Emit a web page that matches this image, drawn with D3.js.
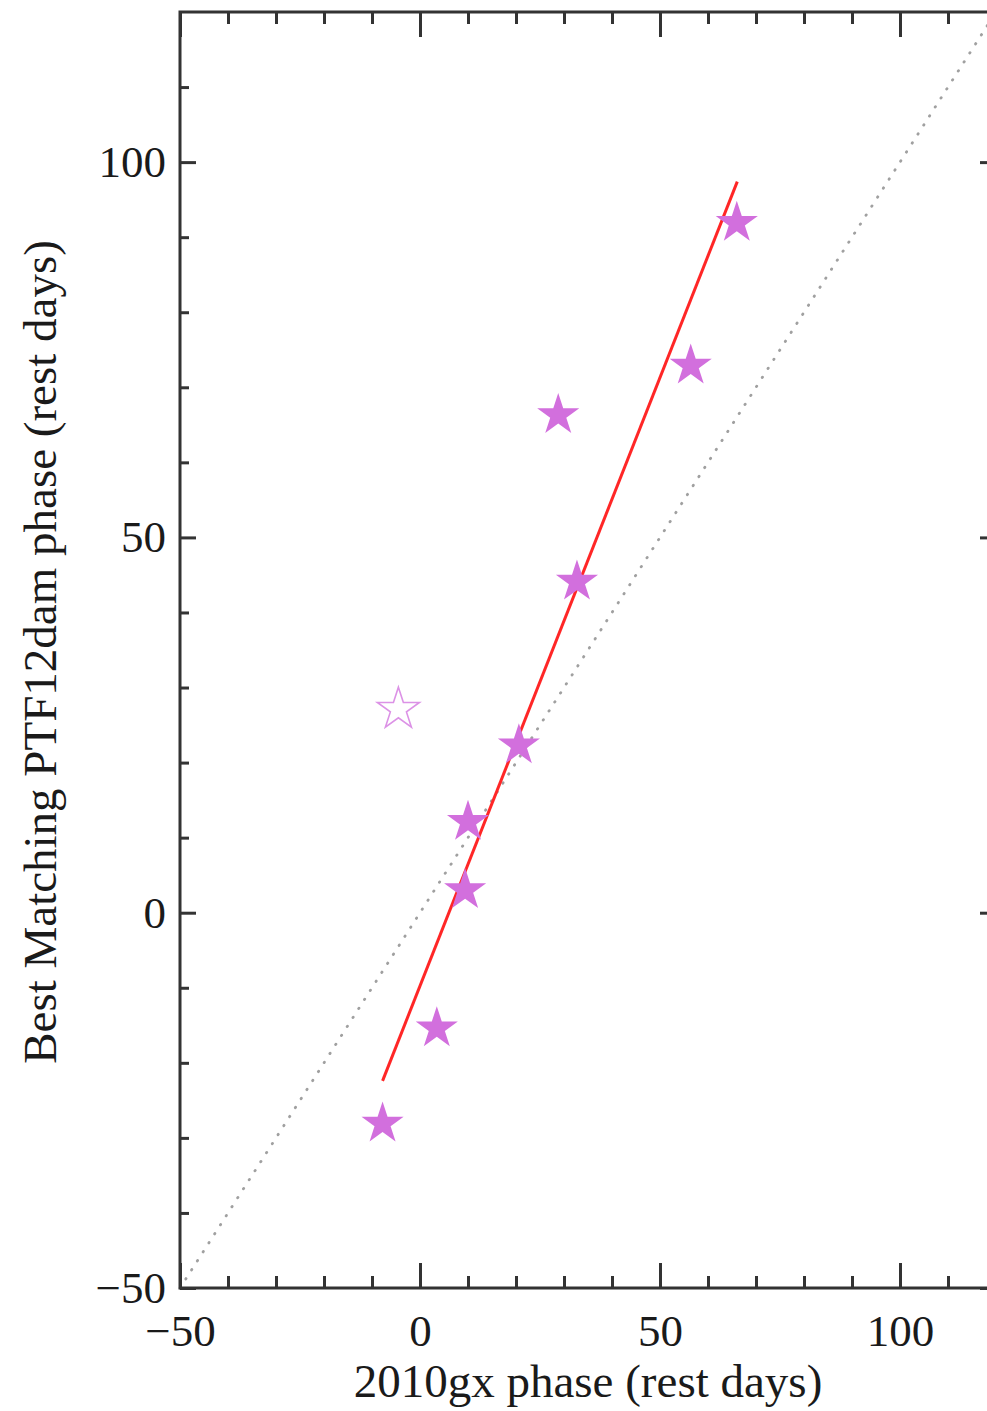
<!DOCTYPE html>
<meta charset="utf-8">
<style>
  body { margin: 0; background: #fff; }
  svg { display: block; }
  text { font-family: "Liberation Serif", "Times New Roman", serif; fill: #1a1a1a; }
</style>
<body>
<div id="chart"></div>
<script src="https://d3js.org/d3.v7.min.js"></script>
<script>

// 2010gx phase vs best matching PTF12dam phase (rest days)
var phase2010gx = [-7.8, 3.5, 9.4, 10.0, 20.6, 32.7, 28.8, 56.4, 66.0];
var phasePTF12dam = [-28.1, -15.4, 3.0, 12.1, 22.3, 44.1, 66.3, 72.9, 91.9];
// rejected point (open star)
var outlier2010gx = [-4.5];
var outlierPTF12dam = [27.1];
// linear fit ends
var fitX = [-7.8, 66.1];
var fitY = [-22.4, 97.4];

var xMajor = [-50, 0, 50, 100];
var yMajor = [-50, 0, 50, 100];
var minorTicks = [-40, -30, -20, -10, 10, 20, 30, 40, 60, 70, 80, 90, 110];
var xLabel = "2010gx phase (rest days)";
var yLabel = "Best Matching PTF12dam phase (rest days)";

var W = 987, H = 1411;
// note: "top" is reserved on window, so plot edges get a prefix
var pLeft = 180, pRight = 996, pTop = 12, pBottom = 1288;

var svg = d3.select("#chart")
  .append("svg")
    .attr("width", W)
    .attr("height", H);

var x = d3.scaleLinear().domain([-50, 120]).range([pLeft, pRight]);
var y = d3.scaleLinear().domain([-50, 120]).range([pBottom, pTop]);

// one-to-one line, dotted
svg.append("line")
  .attr("x1", x(-50)).attr("y1", y(-50))
  .attr("x2", x(120)).attr("y2", y(120))
  .style("stroke", "#a0a0a0")
  .style("stroke-width", 2.8)
  .style("stroke-linecap", "round")
  .style("stroke-dasharray", "0.5 10.2");

// fit line
svg.append("line")
  .attr("x1", x(fitX[0])).attr("y1", y(fitY[0]))
  .attr("x2", x(fitX[1])).attr("y2", y(fitY[1]))
  .style("stroke", "#ff2626")
  .style("stroke-width", 3);

var star = d3.symbol().type(d3.symbolStar).size(550);

svg.append("g")
  .selectAll("path")
  .data(d3.range(phase2010gx.length))
  .enter()
  .append("path")
    .attr("d", star)
    .attr("transform", function (i) { return "translate(" + x(phase2010gx[i]) + "," + y(phasePTF12dam[i]) + ")"; })
    .style("fill", "#d26fdd");

svg.append("g")
  .selectAll("path")
  .data(d3.range(outlier2010gx.length))
  .enter()
  .append("path")
    .attr("d", star)
    .attr("transform", function (i) { return "translate(" + x(outlier2010gx[i]) + "," + y(outlierPTF12dam[i]) + ")"; })
    .style("fill", "none")
    .style("stroke", "#dc92e6")
    .style("stroke-width", 1.6);

// axes: major + minor ticks on all four sides, pointing inward
function styleAxis(g) {
  g.select(".domain").remove();
  g.selectAll("line").style("stroke", "#333").style("stroke-width", 3);
  g.selectAll("text").style("font-size", "45px").style("font-family", "Liberation Serif").style("fill", "#1a1a1a");
}

var minusFmt = function (d) { return d < 0 ? "\u2212" + Math.abs(d) : String(d); };

svg.append("g")
  .attr("transform", "translate(0," + pBottom + ")")
  .call(d3.axisBottom(x).tickValues(xMajor).tickSize(-25).tickPadding(26).tickFormat(minusFmt))
  .call(styleAxis);
svg.append("g")
  .attr("transform", "translate(0," + pBottom + ")")
  .call(d3.axisBottom(x).tickValues(minorTicks).tickSize(-12).tickFormat(""))
  .call(styleAxis);
svg.append("g")
  .attr("transform", "translate(0," + pTop + ")")
  .call(d3.axisTop(x).tickValues(xMajor).tickSize(-25).tickFormat(""))
  .call(styleAxis);
svg.append("g")
  .attr("transform", "translate(0," + pTop + ")")
  .call(d3.axisTop(x).tickValues(minorTicks).tickSize(-12).tickFormat(""))
  .call(styleAxis);

svg.append("g")
  .attr("transform", "translate(" + pLeft + ",0)")
  .call(d3.axisLeft(y).tickValues(yMajor).tickSize(-16).tickPadding(14).tickFormat(minusFmt))
  .call(styleAxis);
svg.append("g")
  .attr("transform", "translate(" + pLeft + ",0)")
  .call(d3.axisLeft(y).tickValues(minorTicks).tickSize(-9).tickFormat(""))
  .call(styleAxis);
svg.append("g")
  .attr("transform", "translate(" + pRight + ",0)")
  .call(d3.axisRight(y).tickValues(yMajor).tickSize(-16).tickFormat(""))
  .call(styleAxis);
svg.append("g")
  .attr("transform", "translate(" + pRight + ",0)")
  .call(d3.axisRight(y).tickValues(minorTicks).tickSize(-9).tickFormat(""))
  .call(styleAxis);

// frame
svg.append("rect")
  .attr("x", pLeft).attr("y", pTop)
  .attr("width", pRight - pLeft).attr("height", pBottom - pTop)
  .style("fill", "none")
  .style("stroke", "#333")
  .style("stroke-width", 3);

svg.append("text")
  .attr("text-anchor", "middle")
  .attr("x", (pLeft + pRight) / 2)
  .attr("y", 1397)
  .style("font-size", "47px")
  .text(xLabel);

svg.append("text")
  .attr("text-anchor", "middle")
  .attr("transform", "translate(56," + ((pTop + pBottom) / 2 + 2) + ") rotate(-90)")
  .style("font-size", "47px")
  .text(yLabel);

</script>
</body>
